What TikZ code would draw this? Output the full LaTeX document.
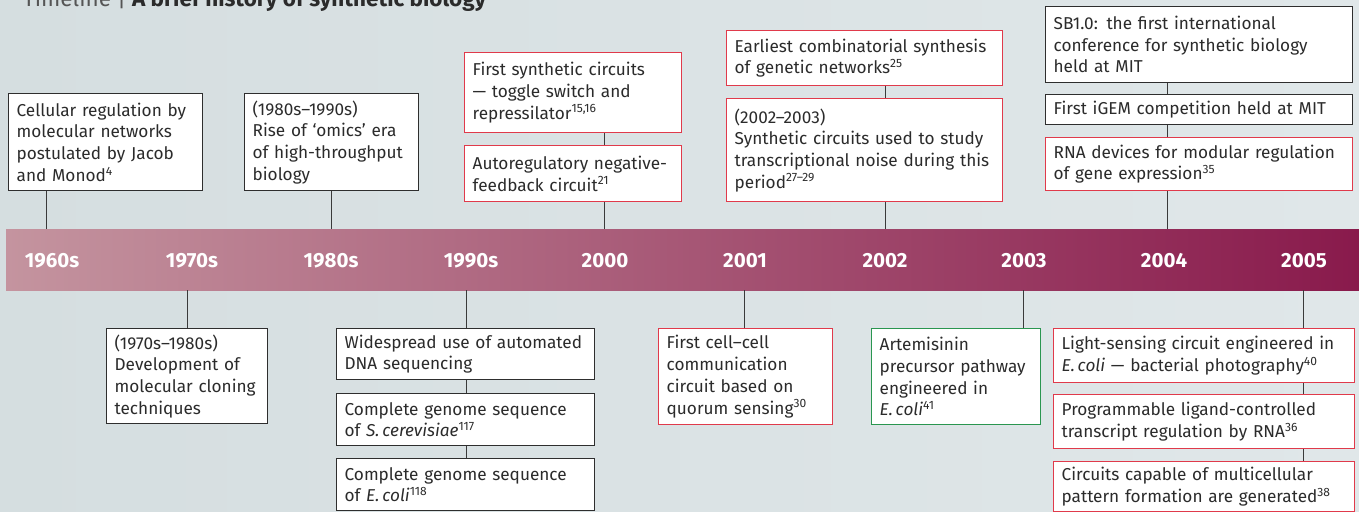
\documentclass[tikz,border=0pt]{standalone}
\usepackage{fontspec}
\setmainfont{Fira Sans}
\definecolor{bgl}{HTML}{D5DEE0}
\definecolor{bgr}{HTML}{E0E7E9}
\definecolor{bandl}{HTML}{C4949F}
\definecolor{bandr}{HTML}{891A4C}
\definecolor{boxblack}{HTML}{2E2E2E}
\definecolor{boxred}{HTML}{E03A4B}
\definecolor{boxgreen}{HTML}{2A9650}
\definecolor{txt}{HTML}{2B2B2B}
\definecolor{titlegray}{HTML}{555555}
\definecolor{linec}{HTML}{3A3A3A}
\tikzset{
  bx/.style={draw=boxblack, fill=white, line width=1.3pt, anchor=north west, align=left,
    inner xsep=8pt, inner ysep=0pt, font=\fontsize{17.2}{21.7}\selectfont, text=txt},
  rbx/.style={bx, draw=boxred},
  gbx/.style={bx, draw=boxgreen},
  yr/.style={text=white, font=\bfseries\fontsize{20.5}{20}\selectfont},
  conn/.style={draw=linec, line width=1pt},
}
\begin{document}
\begin{tikzpicture}[x=1pt,y=-1pt]
\useasboundingbox (0,0) rectangle (1359,511);
\shade[left color=bgl, right color=bgr] (0,0) rectangle (1359,511);
% title (cut off at the top)
\node[anchor=base west, font=\fontsize{22.5}{22}\selectfont, text=txt, inner sep=0pt] (title) at (23,7)
  {{\color{titlegray}Timeline |} \textbf{A brief history of synthetic biology}};
% band
\node[anchor=north west, minimum width=1353pt, minimum height=61pt, inner sep=0pt,
  left color=bandl, right color=bandr, draw=none] (band) at (6,229) {};
\node[yr] (y60) at (52,261) {1960s};
\node[yr] (y70) at (192,261) {1970s};
\node[yr] (y80) at (331,261) {1980s};
\node[yr] (y90) at (471,261) {1990s};
\node[yr] (y00) at (605,261) {2000};
\node[yr] (y01) at (745,261) {2001};
\node[yr] (y02) at (885,261) {2002};
\node[yr] (y03) at (1024,261) {2003};
\node[yr] (y04) at (1164,261) {2004};
\node[yr] (y05) at (1304,261) {2005};
% tick coordinates on the band
\coordinate (t60) at (46,229);
\coordinate (t80) at (331,229);
\coordinate (t00) at (604,229);
\coordinate (t02) at (885,229);
\coordinate (t04) at (1167,229);
\coordinate (t70) at (187,290);
\coordinate (t90) at (466,290);
\coordinate (t01) at (744,290);
\coordinate (t03) at (1023,290);
\coordinate (t05) at (1303,290);
% top boxes
\node[bx, text width=178pt, minimum height=97pt] (A) at (8,93)
  {Cellular regulation by\\molecular networks\\postulated by Jacob\\and Monod\textsuperscript{4}};
\node[bx, text width=158pt, minimum height=97pt] (B) at (244,93)
  {(1980s–1990s)\\Rise of ‘omics’ era\\of high-throughput\\biology};
\node[rbx, text width=201pt, minimum height=80pt] (C) at (464,52)
  {First synthetic circuits\\— toggle switch and\\repressilator\textsuperscript{15,16}};
\node[rbx, text width=201pt, minimum height=56pt] (D) at (464,145)
  {Autoregulatory negative-\\feedback circuit\textsuperscript{21}};
\node[rbx, text width=260pt, minimum height=55pt] (E) at (726,30)
  {Earliest combinatorial synthesis\\of genetic networks\textsuperscript{25}};
\node[rbx, text width=260pt, minimum height=103pt] (F) at (726,98)
  {(2002–2003)\\Synthetic circuits used to study\\transcriptional noise during this\\period\textsuperscript{27–29}};
\node[bx, text width=291pt, minimum height=76pt] (G) at (1045,6)
  {SB1.0: the first international\\conference for synthetic biology\\held at MIT};
\node[bx, text width=291pt, minimum height=30pt] (H) at (1045,94)
  {First iGEM competition held at MIT};
\node[rbx, text width=291pt, minimum height=53pt] (I) at (1045,137)
  {RNA devices for modular regulation\\of gene expression\textsuperscript{35}};
% bottom boxes
\node[bx, text width=145pt, minimum height=95pt] (J) at (106,328)
  {(1970s–1980s)\\Development of\\molecular cloning\\techniques};
\node[bx, text width=242pt, minimum height=51pt] (K) at (336,328)
  {Widespread use of automated\\DNA sequencing};
\node[bx, text width=242pt, minimum height=52pt] (L) at (336,393)
  {Complete genome sequence\\of \textit{S.\,cerevisiae}\textsuperscript{117}};
\node[bx, text width=242pt, minimum height=52pt] (M) at (336,458)
  {Complete genome sequence\\of \textit{E.\,coli}\textsuperscript{118}};
\node[rbx, text width=158pt, minimum height=96pt] (N) at (658,328)
  {First cell–cell\\communication\\circuit based on\\quorum sensing\textsuperscript{30}};
\node[gbx, text width=153pt, minimum height=96pt] (O) at (871,328)
  {Artemisinin\\precursor pathway\\engineered in\\\textit{E.\,coli}\textsuperscript{41}};
\node[rbx, text width=285pt, minimum height=54pt] (P) at (1053,328)
  {Light-sensing circuit engineered in\\\textit{E.\,coli} — bacterial photography\textsuperscript{40}};
\node[rbx, text width=285pt, minimum height=54pt] (Q) at (1053,394)
  {Programmable ligand-controlled\\transcript regulation by RNA\textsuperscript{36}};
\node[rbx, text width=285pt, minimum height=50pt] (R) at (1053,461)
  {Circuits capable of multicellular\\pattern formation are generated\textsuperscript{38}};
% connectors
\draw[conn] (t60 |- A.south) -- (t60);
\draw[conn] (t80 |- B.south) -- (t80);
\draw[conn] (t00 |- C.south) -- (t00 |- D.north);
\draw[conn] (t00 |- D.south) -- (t00);
\draw[conn] (t02 |- E.south) -- (t02 |- F.north);
\draw[conn] (t02 |- F.south) -- (t02);
\draw[conn] (t04 |- G.south) -- (t04 |- H.north);
\draw[conn] (t04 |- H.south) -- (t04 |- I.north);
\draw[conn] (t04 |- I.south) -- (t04);
\draw[conn] (t70) -- (t70 |- J.north);
\draw[conn] (t90) -- (t90 |- K.north);
\draw[conn] (t90 |- K.south) -- (t90 |- L.north);
\draw[conn] (t90 |- L.south) -- (t90 |- M.north);
\draw[conn] (t01) -- (t01 |- N.north);
\draw[conn] (t03) -- (t03 |- O.north);
\draw[conn] (t05) -- (t05 |- P.north);
\draw[conn] (t05 |- P.south) -- (t05 |- Q.north);
\draw[conn] (t05 |- Q.south) -- (t05 |- R.north);
\end{tikzpicture}
\end{document}
